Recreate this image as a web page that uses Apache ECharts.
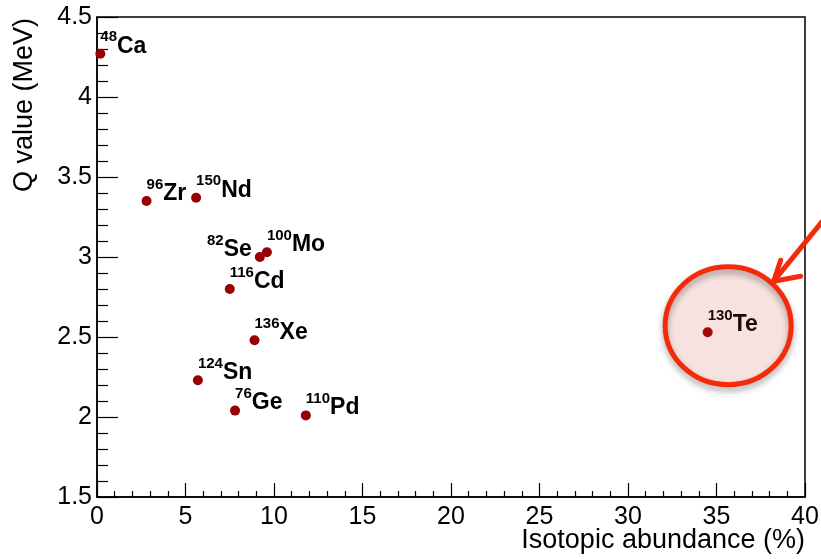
<!DOCTYPE html>
<html>
<head>
<meta charset="utf-8">
<script src="https://cdn.jsdelivr.net/npm/echarts@6/dist/echarts.min.js"></script>
<style>
  html, body { margin: 0; padding: 0; background: #ffffff; }
  #chart { width: 821px; height: 559px; }
</style>
</head>
<body>
<div id="chart"></div>
<script>
// Double-beta-decay candidate isotopes: natural abundance vs. Q value
const elements     = ['Ca', 'Zr', 'Nd', 'Se', 'Mo', 'Cd', 'Xe', 'Sn', 'Ge', 'Pd', 'Te'];
const massNumbers  = ['48', '96', '150', '82', '100', '116', '136', '124', '76', '110', '130'];
const abundancePct = [0.187, 2.8, 5.6, 9.2, 9.6, 7.5, 8.9, 5.7, 7.8, 11.8, 34.5];
const qValueMeV    = [4.27, 3.35, 3.37, 3.00, 3.03, 2.80, 2.48, 2.23, 2.04, 2.01, 2.53];

const xTickValues = [0, 5, 10, 15, 20, 25, 30, 35, 40];
const yTickValues = [1.5, 2, 2.5, 3, 3.5, 4, 4.5];

const xTitle = 'Isotopic abundance (%)';
const yTitle = 'Q value (MeV)';
const highlighted = 'Te';

const FONT = '"Liberation Sans", Arial, Helvetica, sans-serif';
const DOT = '#990000';

const chart = echarts.init(document.getElementById('chart'), null, { renderer: 'canvas' });

const points = elements.map((el, i) => {
  const leftSide = el === 'Se';
  return {
    name: el,
    value: [abundancePct[i], qValueMeV[i]],
    label: {
      show: true,
      formatter: '{sup|' + massNumbers[i] + '}{el|' + el + '}',
      position: leftSide ? [-3, 9] : [5, 9],
      align: leftSide ? 'right' : 'left',
      verticalAlign: 'bottom'
    }
  };
});

const axisLabelStyle = { color: '#000', fontFamily: FONT, fontSize: 25 };

chart.setOption({
  animation: false,
  backgroundColor: '#ffffff',
  grid: {
    left: 97, right: 16, top: 17, bottom: 62,
    containLabel: false,
    outerBoundsMode: 'none',
    show: true,
    borderColor: '#000',
    borderWidth: 1.5,
    backgroundColor: 'transparent'
  },
  xAxis: {
    type: 'value',
    min: xTickValues[0],
    max: xTickValues[xTickValues.length - 1],
    interval: 5,
    axisLine: { show: true, onZero: false, lineStyle: { color: '#000', width: 1.5 } },
    axisTick: { show: true, inside: true, length: 14, lineStyle: { color: '#000', width: 1.2 } },
    minorTick: { show: true, splitNumber: 5, length: 6, lineStyle: { color: '#000', width: 1.2 } },
    splitLine: { show: false },
    axisLabel: Object.assign({ margin: 8, showMinLabel: true, showMaxLabel: true }, axisLabelStyle)
  },
  yAxis: {
    type: 'value',
    min: yTickValues[0],
    max: yTickValues[yTickValues.length - 1],
    interval: 0.5,
    axisLine: { show: true, onZero: false, lineStyle: { color: '#000', width: 1.5 } },
    axisTick: { show: true, inside: true, length: 21, lineStyle: { color: '#000', width: 1.2 } },
    minorTick: { show: true, splitNumber: 5, length: 11, lineStyle: { color: '#000', width: 1.2 } },
    splitLine: { show: false },
    axisLabel: Object.assign({ margin: 5, showMinLabel: true, showMaxLabel: true }, axisLabelStyle)
  },
  series: [{
    type: 'scatter',
    symbol: 'circle',
    symbolSize: 10,
    itemStyle: { color: DOT, opacity: 1 },
    emphasis: { disabled: true },
    data: points,
    label: {
      color: '#000',
      opacity: 1,
      rich: {
        sup: { fontFamily: FONT, fontWeight: 'bold', fontSize: 15, lineHeight: 28, verticalAlign: 'top', color: '#000' },
        el:  { fontFamily: FONT, fontWeight: 'bold', fontSize: 23, lineHeight: 28, verticalAlign: 'bottom', color: '#000' }
      }
    }
  }]
});

// Axis titles and the highlight around the chosen isotope
const k = elements.indexOf(highlighted);
const p = chart.convertToPixel({ seriesIndex: 0 }, [abundancePct[k], qValueMeV[k]]);
const cx = p[0] + 20.5, cy = p[1] - 6.5;
const tip = [p[0] + 66, p[1] - 51];

chart.setOption({
  graphic: [
    {
      type: 'text', x: 805, y: 541,
      style: { text: xTitle, font: '27px ' + FONT, fill: '#000', align: 'right', verticalAlign: 'middle' }
    },
    {
      type: 'text', x: 25, y: 18, rotation: Math.PI / 2,
      style: { text: yTitle, font: '27px ' + FONT, fill: '#000', align: 'right', verticalAlign: 'middle' }
    },
    {
      type: 'ellipse', z: 100,
      shape: { cx: cx, cy: cy, rx: 63, ry: 59 },
      style: { fill: 'rgba(200,60,40,0.15)', stroke: null }
    },
    {
      type: 'ellipse', z: 101,
      shape: { cx: cx, cy: cy, rx: 63, ry: 59 },
      style: {
        fill: null, stroke: '#f42a0c', lineWidth: 5,
        shadowBlur: 6, shadowColor: 'rgba(0,0,0,0.35)', shadowOffsetY: 4
      }
    },
    {
      type: 'polyline', z: 102,
      shape: { points: [tip, [tip[0] + 52, tip[1] - 64]] },
      style: { stroke: '#f42a0c', lineWidth: 5, fill: null, lineCap: 'butt' }
    },
    {
      type: 'polyline', z: 102,
      shape: { points: [[tip[0] + 7, tip[1] - 21], tip, [tip[0] + 27, tip[1] - 5]] },
      style: { stroke: '#f42a0c', lineWidth: 5, fill: null, lineCap: 'round', lineJoin: 'miter' }
    }
  ]
});
</script>
</body>
</html>
